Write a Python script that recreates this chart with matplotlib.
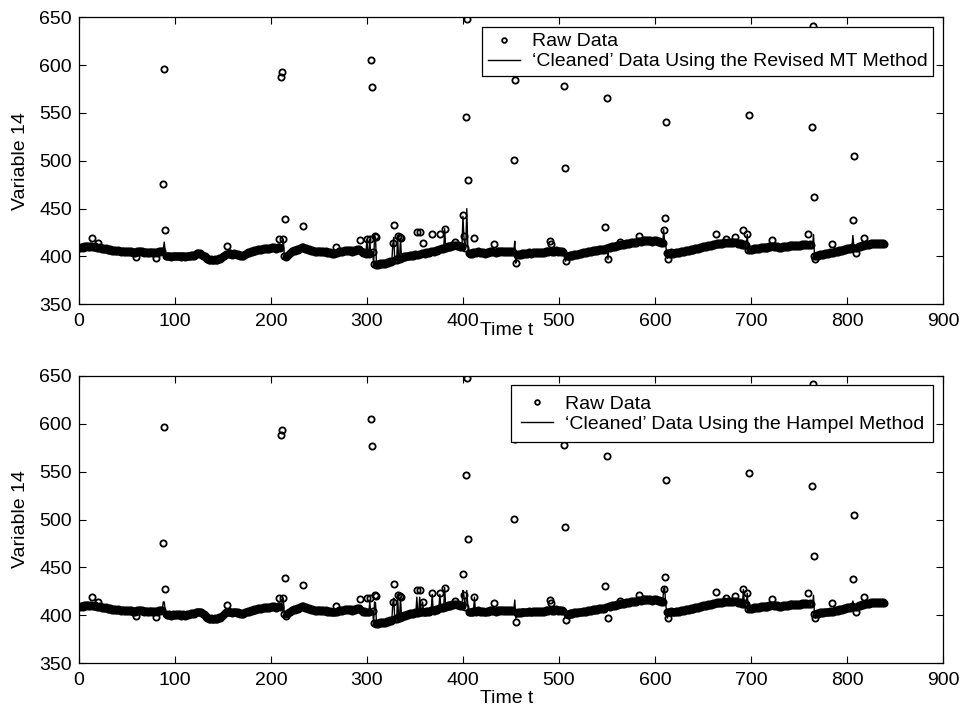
import numpy as np
import matplotlib.pyplot as plt

plt.rcParams['font.family'] = ['Liberation Sans', 'DejaVu Sans']

# common level of variable 14, t = 1..838 (rows of 20)
base = [
    409, 410, 410, 409, 410, 411, 410, 411, 411, 410, 411, 410, 411, 411, 410, 410, 411, 410, 409, 410,
    409, 410, 409, 408, 409, 408, 408, 409, 408, 407, 408, 407, 408, 407, 406, 407, 406, 407, 406, 406,
    407, 406, 406, 405, 406, 406, 405, 406, 405, 406, 405, 406, 405, 406, 405, 404, 405, 405, 404, 405,
    406, 405, 406, 406, 405, 406, 405, 404, 405, 405, 404, 405, 404, 405, 405, 404, 405, 404, 405, 404,
    405, 404, 405, 406, 405, 406, 406, 407, 407, 406, 401, 400, 400, 401, 400, 399, 400, 401, 400, 400,
    401, 400, 401, 400, 401, 400, 399, 400, 401, 400, 399, 400, 401, 400, 401, 401, 402, 401, 402, 401,
    402, 403, 404, 404, 403, 404, 403, 402, 401, 401, 400, 399, 398, 397, 397, 396, 396, 397, 396, 396,
    396, 397, 396, 396, 397, 398, 397, 398, 399, 400, 401, 402, 403, 404, 403, 404, 403, 404, 403, 402,
    403, 404, 403, 403, 402, 403, 402, 401, 402, 401, 401, 402, 403, 403, 404, 405, 404, 405, 406, 405,
    406, 406, 407, 406, 407, 407, 408, 407, 408, 407, 408, 408, 409, 408, 409, 408, 409, 408, 409, 409,
    410, 409, 410, 409, 408, 409, 410, 409, 410, 409, 408, 407, 407, 401, 400, 399, 401, 402, 403, 404,
    405, 406, 406, 407, 406, 407, 408, 407, 408, 409, 409, 410, 409, 410, 409, 408, 409, 408, 407, 408,
    407, 406, 407, 406, 406, 405, 406, 405, 406, 406, 405, 406, 405, 406, 405, 405, 406, 405, 404, 405,
    404, 405, 404, 403, 404, 403, 404, 405, 404, 405, 406, 405, 406, 405, 406, 406, 407, 406, 407, 406,
    407, 406, 407, 406, 405, 406, 407, 406, 407, 408, 407, 408, 407, 406, 405, 404, 405, 404, 403, 404,
    404, 403, 404, 403, 404, 405, 392, 391, 392, 391, 392, 391, 392, 393, 392, 393, 392, 393, 392, 393,
    394, 393, 394, 395, 394, 395, 396, 395, 396, 397, 396, 397, 398, 397, 398, 399, 398, 399, 400, 399,
    400, 401, 400, 401, 402, 401, 402, 401, 402, 403, 402, 403, 402, 403, 404, 403, 404, 403, 404, 403,
    404, 405, 404, 405, 404, 405, 406, 405, 406, 405, 406, 407, 406, 407, 408, 407, 408, 409, 408, 409,
    410, 409, 410, 411, 410, 411, 410, 411, 412, 411, 412, 411, 412, 411, 412, 411, 410, 411, 410, 409,
    410, 409, 410, 411, 412, 404, 403, 404, 403, 404, 405, 404, 405, 404, 405, 406, 405, 404, 405, 404,
    405, 404, 403, 404, 405, 404, 405, 406, 405, 406, 405, 404, 405, 404, 405, 406, 405, 406, 405, 406,
    406, 405, 406, 405, 406, 405, 406, 405, 406, 405, 406, 405, 406, 402, 403, 402, 403, 402, 403, 402,
    403, 404, 403, 404, 403, 404, 403, 404, 405, 404, 403, 404, 405, 404, 405, 404, 405, 404, 405, 404,
    405, 404, 405, 404, 405, 406, 405, 406, 405, 406, 405, 406, 405, 406, 405, 406, 407, 406, 405, 406,
    406, 405, 406, 405, 406, 401, 400, 401, 400, 401, 402, 401, 402, 401, 402, 403, 402, 403, 402, 403,
    403, 404, 403, 404, 405, 404, 405, 404, 405, 406, 405, 406, 405, 406, 407, 406, 407, 406, 407, 406,
    407, 408, 407, 408, 407, 408, 407, 408, 409, 408, 409, 410, 409, 410, 411, 410, 411, 410, 411, 412,
    411, 412, 411, 412, 413, 412, 413, 412, 413, 414, 413, 414, 413, 414, 415, 414, 415, 414, 415, 414,
    415, 416, 415, 416, 415, 416, 417, 416, 417, 416, 417, 416, 417, 416, 417, 416, 415, 416, 417, 416,
    417, 416, 415, 416, 415, 414, 415, 414, 415, 414, 413, 404, 403, 404, 403, 404, 405, 404, 403, 404,
    404, 405, 404, 405, 404, 405, 406, 405, 406, 405, 406, 407, 406, 407, 406, 407, 408, 407, 408, 407,
    408, 409, 408, 409, 408, 409, 410, 409, 410, 411, 410, 411, 410, 411, 412, 411, 412, 411, 412, 413,
    412, 413, 412, 413, 414, 413, 414, 413, 414, 413, 414, 415, 414, 415, 414, 415, 414, 415, 414, 415,
    414, 415, 414, 415, 414, 413, 414, 413, 414, 413, 412, 413, 412, 413, 412, 413, 407, 408, 407, 408,
    407, 408, 409, 408, 409, 408, 409, 408, 409, 410, 409, 410, 409, 410, 409, 410, 409, 410, 411, 410,
    411, 410, 411, 410, 411, 410, 411, 410, 409, 410, 409, 410, 411, 410, 411, 410, 411, 410, 411, 412,
    411, 412, 411, 412, 411, 412, 411, 412, 411, 412, 411, 412, 413, 412, 413, 412, 413, 412, 413, 412,
    413, 412, 413, 412, 413, 401, 400, 401, 402, 401, 402, 403, 402, 403, 402, 403, 404, 403, 404, 403,
    404, 405, 404, 405, 404, 405, 406, 405, 406, 405, 406, 407, 406, 407, 406, 407, 408, 407, 408, 409,
    408, 409, 408, 409, 410, 409, 410, 409, 410, 409, 410, 411, 410, 411, 412, 411, 412, 411, 412, 413,
    412, 413, 412, 413, 414, 413, 414, 413, 414, 413, 414, 413, 414, 413, 414, 413, 414, 413,
]

# raw outliers (time, value)
raw_t = [14, 20, 60, 80, 88, 89, 90, 154, 208, 211, 212, 213, 215, 233, 268, 293,
         300, 303, 304, 305, 308, 309, 327, 328, 332, 335, 336, 352, 355, 358, 368, 376,
         381, 392, 400, 401, 403, 404, 405, 412, 432, 453, 454, 455, 491, 492, 505, 506,
         507, 548, 550, 551, 563, 583, 609, 610, 611, 613, 663, 674, 683, 692, 696, 698,
         722, 759, 763, 764, 765, 767, 784, 806, 807, 809, 818]
raw_v = [419, 414, 399, 398, 476, 596, 428, 411, 418, 588, 593, 418, 439, 432, 410, 417,
         418, 418, 605, 577, 421, 420, 414, 433, 421, 420, 419, 426, 426, 414, 423, 423,
         429, 415, 443, 421, 546, 648, 480, 419, 413, 501, 584, 393, 416, 413, 578, 492,
         395, 431, 566, 397, 415, 421, 428, 440, 541, 397, 424, 418, 420, 428, 423, 548,
         417, 423, 535, 641, 462, 397, 413, 438, 505, 404, 419]

# points the revised MT method keeps away from the common level
mt_t = [89, 213, 300, 303, 308, 309, 327, 328, 332, 335, 381, 400, 401, 404, 454, 455,
        507, 551, 609, 613, 696, 765, 767, 806]
mt_v = [415, 418, 418, 418, 421, 420, 413, 420, 421, 419, 429, 442, 421, 450, 416, 393,
        395, 397, 428, 398, 423, 423, 398, 422]

# points the Hampel method keeps away from the common level
hp_t = [88, 89, 212, 213, 303, 308, 309, 327, 328, 332, 335, 352, 355, 358, 368, 376,
        381, 400, 401, 404, 412, 454, 455, 609, 610, 613, 692, 696, 765, 767, 806]
hp_v = [414, 414, 417, 418, 414, 414, 413, 413, 418, 421, 419, 419, 419, 414, 422, 422,
        429, 426, 421, 426, 419, 416, 397, 428, 429, 397, 427, 423, 421, 397, 415]

t = np.arange(1, len(base) + 1)
base = np.array(base, dtype=float)

raw = base.copy()
raw[np.array(raw_t) - 1] = raw_v
mt = base.copy()
mt[np.array(mt_t) - 1] = mt_v
hp = base.copy()
hp[np.array(hp_t) - 1] = hp_v

fig = plt.figure(figsize=(9.6, 7.1), dpi=100)
ax1 = fig.add_axes([0.082, 0.5714, 0.9005, 0.4042])
ax2 = fig.add_axes([0.082, 0.0658, 0.9005, 0.4050])

panels = [
    (ax1, mt, "\u2018Cleaned\u2019 Data Using the Revised MT Method", 0.3, -0.062),
    (ax2, hp, "\u2018Cleaned\u2019 Data Using the Hampel Method", 0.5, -0.092),
]

for ax, clean, name, bpad, ylab in panels:
    ax.plot(t, raw, 'o', ms=4.5, mfc='none', mec='black', mew=1.3, label='Raw Data')
    ax.plot(t, clean, '-', color='black', lw=1.0, label=name)
    ax.set_xlim(0, 900)
    ax.set_ylim(350, 650)
    ax.set_xticks(np.arange(0, 901, 100))
    ax.set_yticks(np.arange(350, 651, 50))
    ax.tick_params(direction='in', top=True, right=True, length=5, width=0.8,
                   labelsize=14)
    ax.tick_params(axis='x', pad=6)
    ax.tick_params(axis='y', pad=5)
    for s in ax.spines.values():
        s.set_linewidth(0.9)
    ax.set_xlabel('Time t', fontsize=14)
    ax.xaxis.set_label_coords(0.495, ylab)
    ax.set_ylabel('Variable 14', fontsize=14)
    ax.yaxis.set_label_coords(-0.058, 0.5)
    leg = ax.legend(loc='upper right', fontsize=14, frameon=True, fancybox=False,
                    edgecolor='black', framealpha=1, borderaxespad=0.5,
                    handlelength=1.65, handletextpad=0.6, borderpad=bpad,
                    labelspacing=0.12, markerscale=0.75)
    leg.get_frame().set_linewidth(0.9)

fig.savefig('out.png', dpi=100)
